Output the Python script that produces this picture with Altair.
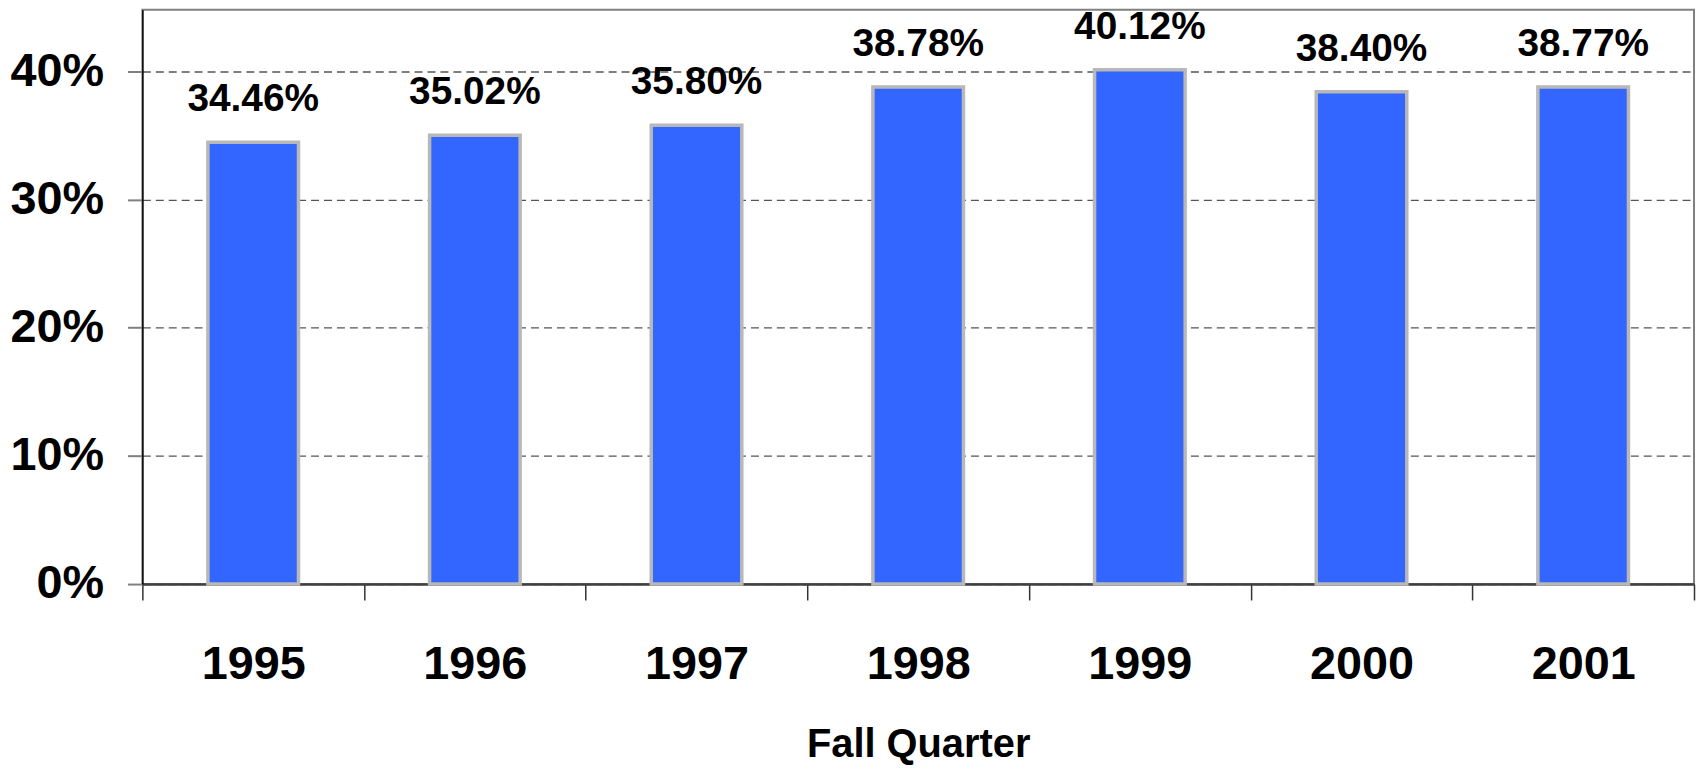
import altair as alt
import pandas as pd

years = ["1995", "1996", "1997", "1998", "1999", "2000", "2001"]
values = [0.3446, 0.3502, 0.3580, 0.3878, 0.4012, 0.3840, 0.3877]
labels = ["34.46%", "35.02%", "35.80%", "38.78%", "40.12%", "38.40%", "38.77%"]
y_ticks = [0, 0.1, 0.2, 0.3, 0.4]

df = pd.DataFrame({"year": years, "value": values, "label": labels})

FONT = "Liberation Sans"

x_enc = alt.X(
    "year:N",
    sort=years,
    scale=alt.Scale(paddingInner=0, paddingOuter=0),
    axis=alt.Axis(
        title="Fall Quarter",
        titleFont=FONT, titleFontSize=40, titleFontWeight="bold", titleColor="black",
        titleBaseline="alphabetic", titleY=173,
        labelFont=FONT, labelFontSize=47, labelFontWeight="bold", labelColor="black",
        labelAngle=0, labelPadding=42,
        tickBand="extent", tickSize=16, tickColor="#333333", tickWidth=1.5,
        domainColor="#404040", domainWidth=2.5,
        grid=False,
    ),
)

y_enc = alt.Y(
    "value:Q",
    scale=alt.Scale(domain=[0, 0.448], nice=False, zero=True),
    axis=alt.Axis(
        title=None,
        values=y_ticks, format=".0%",
        labelFont=FONT, labelFontSize=47, labelFontWeight="bold", labelColor="black",
        labelPadding=24,
        tickSize=15, tickColor="#808080", tickWidth=2,
        domainColor="black", domainWidth=1.5,
        grid=True, gridColor="#555555", gridDash=[8, 5], gridWidth=1.3,
    ),
)

bars = alt.Chart(df).mark_bar(
    color="#3366FF", stroke="#B8B8B8", strokeWidth=3.5, width=91
).encode(x=x_enc, y=y_enc)

text = alt.Chart(df).mark_text(
    font=FONT, fontSize=39, fontWeight="bold", color="black",
    baseline="alphabetic", dy=-31
).encode(x=alt.X("year:N", sort=years), y="value:Q", text="label:N")

chart = (
    alt.layer(bars, text)
    .properties(
        width=1559, height=577,
        padding={"left": 135, "top": 0, "right": 2, "bottom": 180},
        autosize=alt.AutoSizeParams(type="none"),
    )
    .configure_view(stroke="#808080", strokeWidth=2)
)

chart.save("out.html", embed_options={"renderer": "svg", "actions": False})
